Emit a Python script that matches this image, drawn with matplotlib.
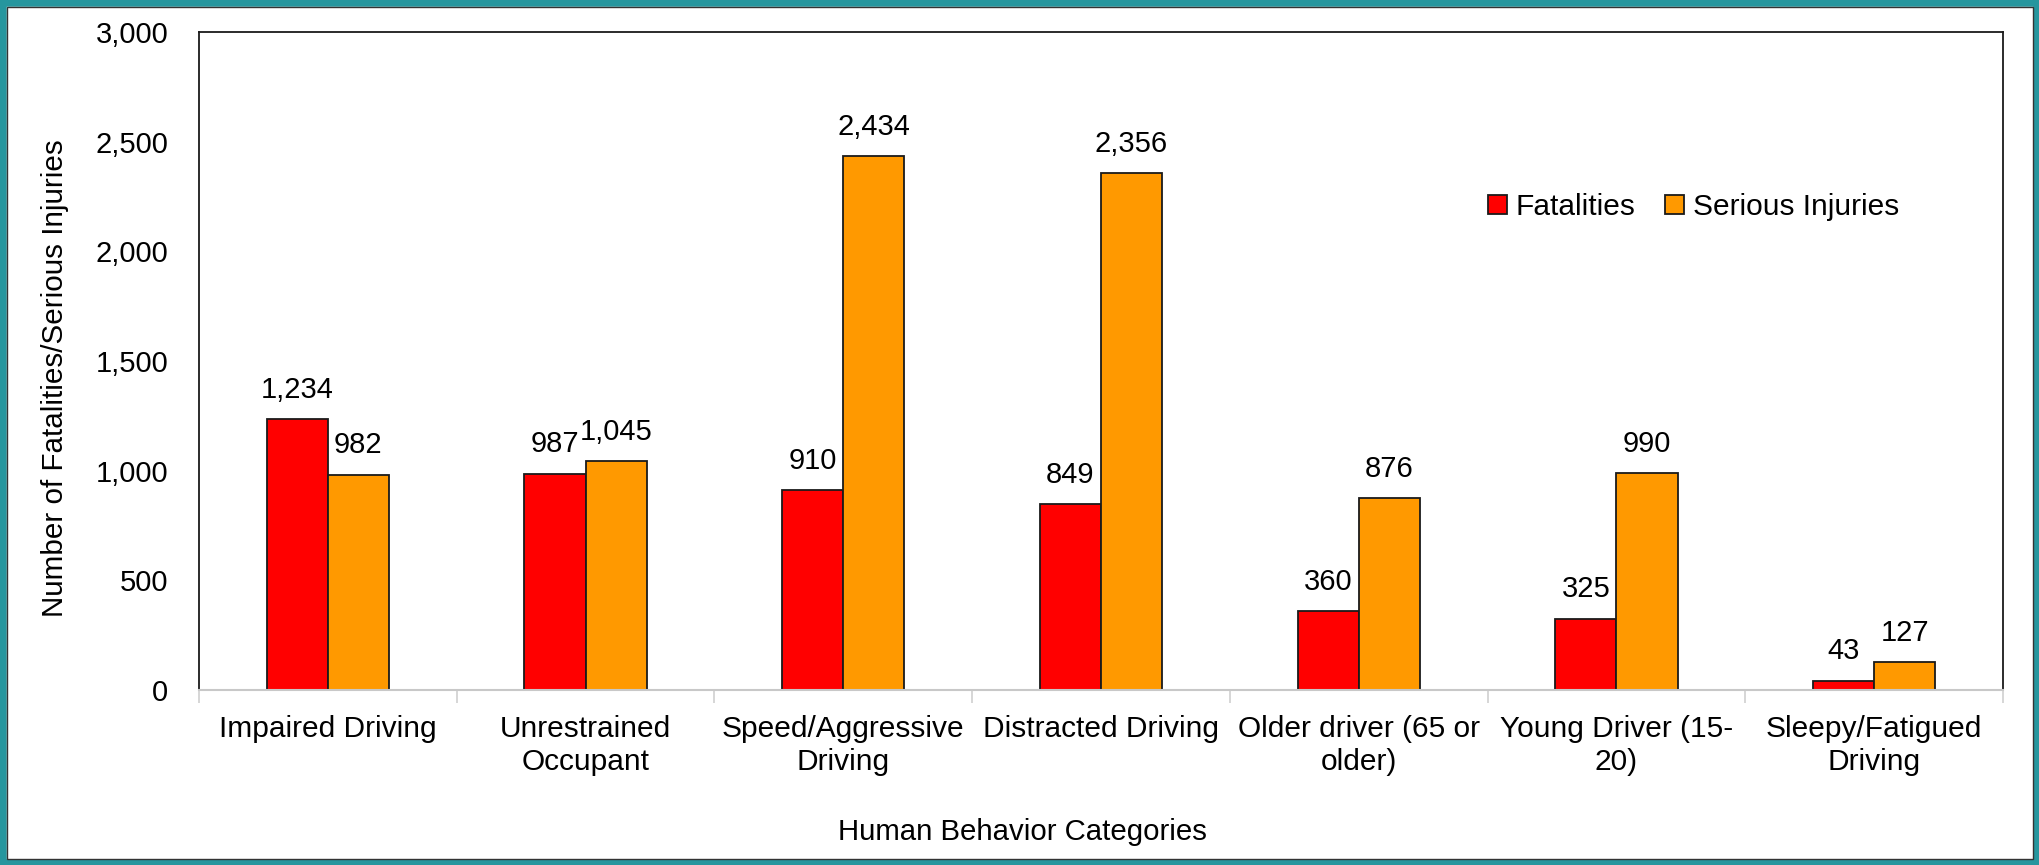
import matplotlib
matplotlib.use("Agg")
import matplotlib.pyplot as plt
from matplotlib.patches import Rectangle
import numpy as np

categories = ["Impaired Driving", "Unrestrained\nOccupant", "Speed/Aggressive\nDriving",
              "Distracted Driving", "Older driver (65 or\nolder)", "Young Driver (15-\n20)",
              "Sleepy/Fatigued\nDriving"]
fatalities = [1234, 987, 910, 849, 360, 325, 43]
serious = [982, 1045, 2434, 2356, 876, 990, 127]
yticks = [0, 500, 1000, 1500, 2000, 2500, 3000]

plt.rcParams['font.family'] = ['Liberation Sans', 'DejaVu Sans']

W, H = 2039, 865
fig = plt.figure(figsize=(W/100, H/100), dpi=100)
ax = fig.add_axes([199/W, 1-690/H, (2003-199)/W, (690-32)/H])

x = np.arange(len(categories))
w = 0.237
b1 = ax.bar(x - w/2, fatalities, w, color='#FF0000', edgecolor='#1a1a1a', linewidth=1.3, label='Fatalities')
b2 = ax.bar(x + w/2, serious, w, color='#FF9900', edgecolor='#1a1a1a', linewidth=1.3, label='Serious Injuries')

for bars, vals in ((b1, fatalities), (b2, serious)):
    for r, v in zip(bars, vals):
        ax.annotate(f"{v:,}", (r.get_x() + r.get_width()/2, v), xytext=(0, 11),
                    textcoords='offset points', ha='center', va='bottom', fontsize=21)

ax.set_xlim(-0.5, len(categories) - 0.5)
ax.set_ylim(0, 3000)
ax.set_yticks(yticks)
ax.set_yticklabels([f"{t:,}" for t in yticks], fontsize=21)
ax.tick_params(axis='y', length=0, pad=22)

ax.set_xticks(x)
ax.set_xticklabels(categories, fontsize=21.5, linespacing=1.25)
ax.set_xticks(np.arange(len(categories) + 1) - 0.5, minor=True)
ax.tick_params(axis='x', which='major', length=0, pad=18)
ax.tick_params(axis='x', which='minor', length=9, color='#d0d0d0', width=1.2)

for s in ('left', 'top', 'right'):
    ax.spines[s].set_color('#1a1a1a')
    ax.spines[s].set_linewidth(1.3)
ax.spines['bottom'].set_color('#c8c8c8')
ax.spines['bottom'].set_linewidth1 = None
ax.spines['bottom'].set_linewidth(1.5)

fig.text(55/W, 1-378/H, "Number of Fatalities/Serious Injuries", rotation=90,
         ha='center', va='center', fontsize=21.3)
fig.text(1022/W, 1-832/H, "Human Behavior Categories", ha='center', va='center', fontsize=21.2)

leg = fig.legend(handles=[b1, b2], loc='center left', bbox_to_anchor=(1488/W, 1-207/H),
                 ncol=2, frameon=False, fontsize=21.5, handlelength=0.62, handleheight=0.62,
                 handletextpad=0.3, columnspacing=1.0, borderpad=0, borderaxespad=0)

fig.patches.append(Rectangle((0, 0), 1, 1, transform=fig.transFigure, fill=False,
                             edgecolor='#26969E', linewidth=9, zorder=10))
fig.patches.append(Rectangle((6.5/W, 6.5/H), 1-13/W, 1-13/H, transform=fig.transFigure,
                             fill=False, edgecolor='#333333', linewidth=1, zorder=10))

fig.savefig("out.png", dpi=100)
